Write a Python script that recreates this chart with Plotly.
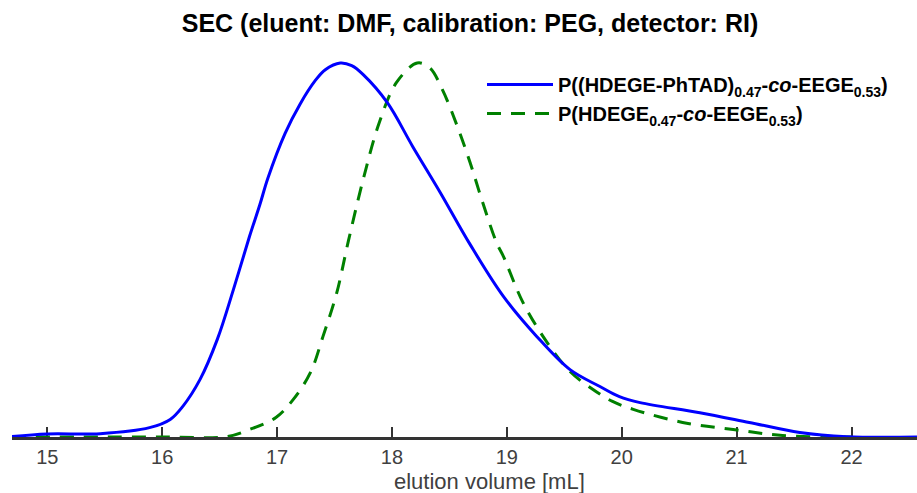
import plotly.graph_objects as go

# Blue: P((HDEGE-PhTAD)0.47-co-EEGE0.53)
blue_x = [14.69, 15.0, 15.46, 15.89, 16.07, 16.18, 16.33, 16.48, 16.62, 16.76, 16.85, 16.92,
          17.07, 17.20, 17.33, 17.42, 17.55, 17.65, 17.75, 17.96, 18.18, 18.42, 18.68, 18.97, 19.26,
          19.55, 19.81, 19.98, 20.16, 20.68, 21.11, 21.55, 21.96, 22.57]
blue_y = [0.001, 0.008, 0.009, 0.025, 0.047, 0.082, 0.154, 0.261, 0.394, 0.536, 0.621, 0.692,
          0.812, 0.890, 0.952, 0.982, 1.0, 0.993, 0.969, 0.894, 0.777, 0.654, 0.515, 0.376, 0.269,
          0.180, 0.135, 0.108, 0.092, 0.065, 0.039, 0.012, 0.001, 0.0]

# Green: P(HDEGE0.47-co-EEGE0.53)
green_x = [14.69, 16.0, 16.56, 16.76, 16.99, 17.14, 17.29, 17.40, 17.52, 17.62, 17.75,
           17.89, 18.04, 18.22, 18.33, 18.44, 18.57, 18.68, 18.79, 18.91, 18.97, 19.14,
           19.35, 19.55, 19.75, 19.92, 20.10, 20.53, 20.97, 21.40, 21.90, 22.0]
green_y = [0.0, 0.0, 0.001, 0.02, 0.052, 0.10, 0.172, 0.269, 0.386, 0.523, 0.689,
           0.841, 0.948, 1.0, 0.987, 0.928, 0.830, 0.734, 0.627, 0.520, 0.483, 0.360,
           0.253, 0.175, 0.127, 0.095, 0.074, 0.039, 0.020, 0.004, 0.0, 0.0]

tick_vals = [15, 16, 17, 18, 19, 20, 21, 22]

name_blue = "<b>P((HDEGE-PhTAD)<sub>0.47</sub>-<i>co</i>-EEGE<sub>0.53</sub>)</b>"
name_green = "<b>P(HDEGE<sub>0.47</sub>-<i>co</i>-EEGE<sub>0.53</sub>)</b>"

fig = go.Figure()
fig.add_trace(go.Scatter(x=green_x, y=green_y, mode="lines", name=name_green,
                         line=dict(color="#008000", width=3, dash="14px,10px", shape="spline", smoothing=1)))
fig.add_trace(go.Scatter(x=blue_x, y=blue_y, mode="lines", name=name_blue,
                         line=dict(color="#0000ff", width=3, shape="spline", smoothing=1)))

fig.update_layout(
    width=917, height=493,
    margin=dict(l=12, r=0, t=55, b=56),
    paper_bgcolor="white", plot_bgcolor="white",
    showlegend=True,
    legend=dict(x=(482-12)/905, y=1 - 10/382, xanchor="left", yanchor="top", traceorder="reversed",
                font=dict(family="Liberation Sans, Arial", size=20, color="black"),
                bgcolor="rgba(0,0,0,0)", itemwidth=66, tracegroupgap=0),
    title=dict(text="<b>SEC (eluent: DMF, calibration: PEG, detector: RI)</b>",
               x=470/917, xanchor="center", y=1 - 23/493, yanchor="middle",
               font=dict(family="Liberation Sans, Arial", size=25, color="black")),
    xaxis=dict(range=[14.693, 22.57], tickvals=tick_vals, ticks="inside", ticklen=10,
               tickwidth=2, tickcolor="#333333", showline=True, linecolor="#333333",
               linewidth=3, showgrid=False, zeroline=False, layer="below traces",
               tickfont=dict(family="Liberation Sans, Arial", size=20, color="#404040")),
    yaxis=dict(range=[0, 382/374], visible=False, showgrid=False, zeroline=False),
    annotations=[dict(text="elution volume [mL]", xref="paper", yref="paper",
                      x=(489-12)/905, y=-(482-437.5)/382, xanchor="center", yanchor="middle",
                      showarrow=False,
                      font=dict(family="Liberation Sans, Arial", size=22, color="#404040"))],
)

fig.write_html("out.html")
